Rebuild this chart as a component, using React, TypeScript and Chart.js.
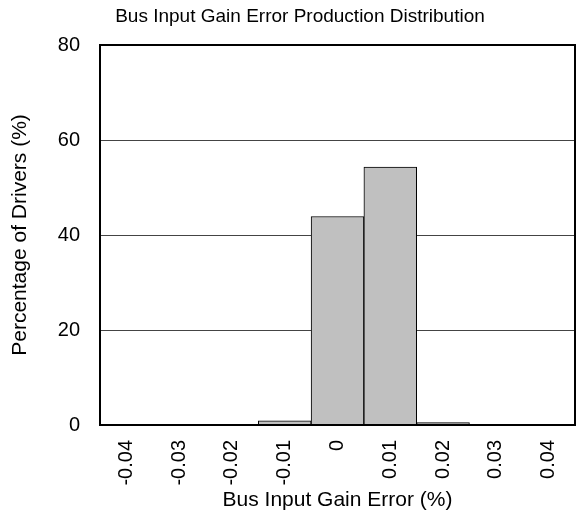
import React, { useEffect, useRef } from "react";
import { Chart, registerables } from "chart.js";

Chart.register(...registerables);

const categories = ["-0.04", "-0.03", "-0.02", "-0.01", "0", "0.01", "0.02", "0.03", "0.04"];
const percentages = [0, 0, 0, 0.9, 43.9, 54.3, 0.5, 0, 0];
const yTicks = [0, 20, 40, 60, 80];
const chartTitle = "Bus Input Gain Error Production Distribution";

const FONT = "'Liberation Sans', Arial, sans-serif";

const frame = {
  id: "frame",
  afterDatasetsDraw(chart: any) {
    const { ctx, chartArea } = chart;
    ctx.save();
    ctx.strokeStyle = "#000";
    ctx.lineWidth = 2;
    ctx.strokeRect(chartArea.left, chartArea.top, chartArea.right - chartArea.left, chartArea.bottom - chartArea.top);
    ctx.fillStyle = "#000";
    ctx.font = `19px ${FONT}`;
    ctx.textAlign = "center";
    ctx.textBaseline = "middle";
    ctx.fillText(chartTitle, 300, 17);
    ctx.restore();
  },
};

export default function App() {
  const ref = useRef<HTMLCanvasElement>(null);
  useEffect(() => {
    const chart = new Chart(ref.current!, {
      type: "bar",
      data: {
        labels: categories,
        datasets: [
          {
            data: percentages,
            backgroundColor: "#c0c0c0",
            borderColor: "#000",
            borderWidth: 1,
            barPercentage: 1,
            categoryPercentage: 1,
          },
        ],
      },
      options: {
        responsive: false,
        animation: false,
        layout: { padding: { left: 0, right: 5, top: 45, bottom: 0 } },
        plugins: {
          legend: { display: false },
          tooltip: { enabled: false },
          title: { display: false },
        },
        scales: {
          x: {
            grid: { display: false, drawTicks: false },
            border: { display: false },
            afterFit: (s: any) => {
              s.height = 94;
              s.paddingRight = 0;
              s.paddingLeft = 0;
            },
            ticks: {
              color: "#000",
              font: { family: FONT, size: 20 },
              minRotation: 90,
              maxRotation: 90,
              padding: 15,
              autoSkip: false,
            },
            title: {
              display: true,
              text: "Bus Input Gain Error (%)",
              color: "#000",
              font: { family: FONT, size: 21 },
              padding: { top: 0, bottom: 6 },
            },
          },
          y: {
            min: 0,
            max: 80,
            afterFit: (s: any) => {
              s.width = 100;
              s.paddingTop = 0;
              s.paddingBottom = 0;
            },
            afterBuildTicks: (s: any) => {
              s.ticks = yTicks.map((v) => ({ value: v }));
            },
            grid: {
              drawTicks: false,
              color: (c: any) => (c.tick && (c.tick.value === 0 || c.tick.value === 80) ? "rgba(0,0,0,0)" : "#444"),
              lineWidth: 1,
            },
            border: { display: false },
            ticks: {
              color: "#000",
              font: { family: FONT, size: 20 },
              padding: 20,
            },
            title: {
              display: true,
              text: "Percentage of Drivers (%)",
              color: "#000",
              font: { family: FONT, size: 21 },
              padding: { top: 8, bottom: 0 },
            },
          },
        },
      },
      plugins: [frame],
    });
    return () => chart.destroy();
  }, []);
  return (
    <div style={{ position: "absolute", left: 0, top: 0, width: 580, height: 519, background: "#fff" }}>
      <canvas ref={ref} width={580} height={519} />
    </div>
  );
}
